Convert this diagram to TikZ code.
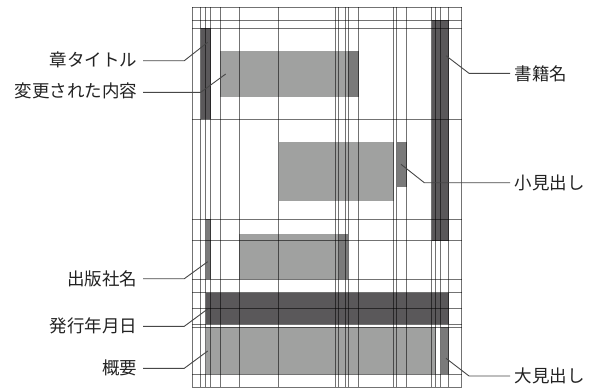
\documentclass[tikz,border=0pt]{standalone}
\usepackage{fontspec}
\newfontfamily\jp{Noto Sans CJK JP}
\definecolor{lightfill}{HTML}{A0A1A0}
\definecolor{midfill}{HTML}{7A7A7A}
\definecolor{darkfill}{HTML}{5A585A}
\definecolor{txt}{HTML}{222222}
\begin{document}
\begin{tikzpicture}[x=1pt,y=-1pt,
  gridline/.style={line width=1pt, draw=black, draw opacity=0.55},
  leader/.style={line width=0.9pt, draw=black!72},
  lbl/.style={font=\jp\fontsize{17.5}{20}\selectfont, text=txt, inner sep=0pt},
]
\useasboundingbox (0,0) rectangle (597,389);
% fills
\fill[darkfill] (200.7,28.3) rectangle (210.7,119.3);      % chapter title
\fill[lightfill] (220.3,51) rectangle (348.3,96.7);        % changed content
\fill[midfill] (348.3,51) rectangle (358.7,96.7);
\fill[darkfill] (431.7,20) rectangle (449,240.7);          % book title
\fill[lightfill] (278.7,141.7) rectangle (394,201);
\fill[midfill] (396.7,141.7) rectangle (406.7,186.7);      % subheading
\fill[midfill] (205.7,219.3) rectangle (210.7,279.3);      % publisher
\fill[lightfill] (239.3,234) rectangle (339,279.3);
\fill[midfill] (339,234) rectangle (348.3,279.3);
\fill[darkfill] (205.7,292.7) rectangle (448.7,324);       % date
\fill[lightfill] (205.7,327.3) rectangle (435.7,374.3);    % summary
\fill[midfill] (440.7,327.3) rectangle (448.7,374.3);      % big heading
% grid
\foreach \x in {192.3,200.7,205.7,210.7,220.3,239.3,278.7,335.2,338.8,345.7,348.3,358.7,393.6,396.7,406.7,431.7,435.7,440.7,448.8,461.5}
  \draw[gridline] (\x,7.3) -- (\x,387.3);
\foreach \y in {7.3,20,28.3,119.3,219.3,240.7,279.3,292.7,308.3,324,327.3,374.3,387.3}
  \draw[gridline] (192.3,\y) -- (461.5,\y);
% labels
\node[lbl, anchor=east] (l1) at (137.5,59.5) {章タイトル};
\node[lbl, anchor=east] (l2) at (137.5,91) {変更された内容};
\node[lbl, anchor=east] (l3) at (137.5,278.5) {出版社名};
\node[lbl, anchor=east] (l4) at (137.5,326) {発行年月日};
\node[lbl, anchor=east] (l5) at (137.5,368) {概要};
\node[lbl, anchor=west] (r1) at (514.5,73.8) {書籍名};
\node[lbl, anchor=west] (r2) at (514.5,182.7) {小見出し};
\node[lbl, anchor=west] (r3) at (514.5,376) {大見出し};
% leader points
\coordinate (p1) at (207.7,42.3);
\coordinate (p2) at (225.7,74);
\coordinate (p3) at (207.7,261.7);
\coordinate (p4) at (207.7,309);
\coordinate (p5) at (207.7,351);
\coordinate (q1) at (446,55.7);
\coordinate (q2) at (401,164.3);
\coordinate (q3) at (446,358.3);
\draw[leader] ([xshift=5.5pt]l1.east) ++(0,1.2) -- (184.3,60.7) -- (p1);
\draw[leader] ([xshift=5.5pt]l2.east) ++(0,1.3) -- (200.7,92.3) -- (p2);
\draw[leader] ([xshift=5.5pt]l3.east) ++(0,0.2) -- (184.3,278.7) -- (p3);
\draw[leader] ([xshift=5.5pt]l4.east) ++(0,0.3) -- (184.3,326.3) -- (p4);
\draw[leader] ([xshift=5.5pt]l5.east) ++(0,0.3) -- (184.3,368.3) -- (p5);
\draw[leader] ([xshift=-4.5pt]r1.west) ++(0,-0.5) -- (469,73.3) -- (q1);
\draw[leader] ([xshift=-4.5pt]r2.west) -- (424.3,182.7) -- (q2);
\draw[leader] ([xshift=-4.5pt]r3.west) -- (469,376) -- (q3);
\end{tikzpicture}
\end{document}
